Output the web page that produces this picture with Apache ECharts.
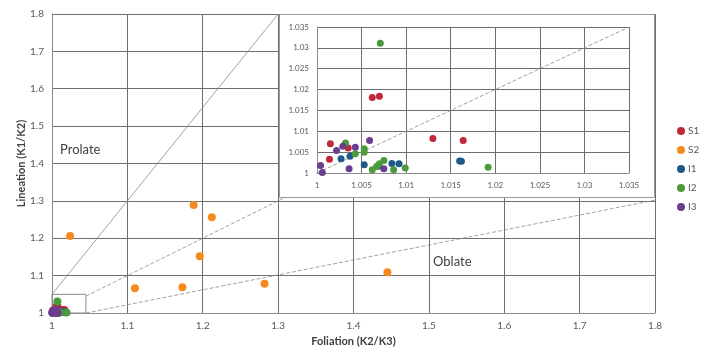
<!DOCTYPE html>
<html>
<head>
<meta charset="utf-8">
<script src="https://cdn.jsdelivr.net/npm/echarts@6/dist/echarts.min.js"></script>
<style>
  html, body { margin: 0; padding: 0; background: #fff; }
  #chart { width: 705px; height: 352px; }
</style>
</head>
<body>
<div id="chart"></div>
<script>
// 数据：每个点为 [Foliation, Lineation]
const seriesNames = ['S1', 'S2', 'I1', 'I2', 'I3'];
const colors = ['#c0283c', '#f58a1f', '#1d5a8a', '#4c9a3b', '#6b3d8c'];

const s1 = [
  [1.0015, 1.0070], [1.0014, 1.0033], [1.0035, 1.0060], [1.0062, 1.0181],
  [1.0070, 1.0184], [1.0130, 1.0083], [1.0164, 1.0078]
];
const s2 = [
  [1.024, 1.206], [1.188, 1.289], [1.212, 1.256], [1.196, 1.152],
  [1.110, 1.066], [1.173, 1.069], [1.282, 1.078], [1.445, 1.109]
];
const i1 = [
  [1.0027, 1.0034], [1.0037, 1.0040], [1.0053, 1.0020], [1.0069, 1.0016],
  [1.0084, 1.0023], [1.0092, 1.0022], [1.0160, 1.0029], [1.0162, 1.0028]
];
const i2 = [
  [1.0071, 1.0311], [1.0032, 1.0072], [1.0043, 1.0046], [1.0053, 1.0058],
  [1.0053, 1.0050], [1.0062, 1.0008], [1.0070, 1.0022], [1.0075, 1.0030],
  [1.0086, 1.0008], [1.0099, 1.0012], [1.0192, 1.0014], [1.0067, 1.0016]
];
const i3 = [
  [1.0004, 1.0018], [1.0006, 1.0001], [1.0022, 1.0054], [1.0029, 1.0064],
  [1.0043, 1.0062], [1.0036, 1.0010], [1.0059, 1.0078], [1.0075, 1.0010]
];
const allData = [s1, s2, i1, i2, i3];

// 参考线
const lineProlate = [[1, 1.05], [1.3, 1.8]];
const lineEqual = [[1.045, 1.045], [1.8, 1.8]];
const lineOblate = [[1.045, 1], [1.8, 1.302]];
const zoomBox = [[1, 1], [1.045, 1], [1.045, 1.05], [1, 1.05], [1, 1]];
const insetEqual = [[1, 1], [1.035, 1.035]];

const font = 'Lato, "Liberation Sans", sans-serif';
const labelStyle = { color: '#595959', fontSize: 10, fontFamily: font };
const gridLine = { lineStyle: { color: '#6e6e6e', width: 1 } };

const chart = echarts.init(document.getElementById('chart'), null, { renderer: 'canvas' });

const series = [];
// 主图散点
allData.forEach((d, k) => {
  series.push({
    name: seriesNames[k], type: 'scatter', xAxisIndex: 0, yAxisIndex: 0,
    data: d, symbolSize: 8, itemStyle: { color: colors[k], opacity: 1 }, z: 5
  });
});
// 主图参考线
function refLine(data, dashed, xi, z) {
  return {
    type: 'line', data: data, xAxisIndex: xi, yAxisIndex: xi, symbol: 'none', silent: true,
    lineStyle: { color: '#8a8a8a', width: 0.8, type: dashed ? [4, 2] : 'solid' },
    z: z, animation: false
  };
}
series.push(refLine(lineProlate, false, 0, 3));
series.push(refLine(lineEqual, true, 0, 3));
series.push(refLine(lineOblate, true, 0, 3));
series.push(Object.assign(refLine(zoomBox, false, 0, 3), { lineStyle: { color: '#8a8a8a', width: 1 } }));
// 插图
series.push(refLine(insetEqual, true, 1, 12));
allData.forEach((d, k) => {
  if (k === 1) return;
  series.push({
    name: seriesNames[k], type: 'scatter', xAxisIndex: 1, yAxisIndex: 1,
    data: d, symbolSize: 7, itemStyle: { color: colors[k], opacity: 1 }, z: 13
  });
});

chart.setOption({
  animation: false,
  color: colors,
  textStyle: { fontFamily: font },
  grid: [
    { left: 52, top: 14, width: 603, height: 299 },
    { left: 317, top: 27, width: 312, height: 146, z: 11 }
  ],
  legend: {
    data: seriesNames,
    orient: 'vertical',
    left: 672, top: 121,
    itemGap: 9, itemWidth: 8, itemHeight: 8,
    icon: 'circle',
    textStyle: { color: '#595959', fontSize: 10, fontFamily: font, padding: [0, 0, 0, -2] }
  },
  xAxis: [
    {
      type: 'value', gridIndex: 0, min: 1, max: 1.8, interval: 0.1,
      name: 'Foliation (K2/K3)', nameLocation: 'middle', nameGap: 22,
      nameTextStyle: { fontWeight: 'bold', fontSize: 11, color: '#404040', fontFamily: font },
      axisLine: { lineStyle: { color: '#8c8c8c' } }, axisTick: { show: false },
      axisLabel: labelStyle, splitLine: gridLine
    },
    {
      type: 'value', gridIndex: 1, min: 1, max: 1.035, interval: 0.005, z: 11,
      axisLine: { lineStyle: { color: '#8c8c8c' } }, axisTick: { show: false },
      axisLabel: Object.assign({}, labelStyle, { fontSize: 8, margin: 8 }), splitLine: gridLine
    }
  ],
  yAxis: [
    {
      type: 'value', gridIndex: 0, min: 1, max: 1.8, interval: 0.1,
      name: 'Lineation (K1/K2)', nameLocation: 'middle', nameGap: 25, nameMoveOverlap: false,
      nameTextStyle: { fontWeight: 'bold', fontSize: 11, color: '#404040', fontFamily: font },
      axisLine: { show: true, lineStyle: { color: '#8c8c8c' } }, axisTick: { show: false },
      axisLabel: labelStyle, splitLine: gridLine
    },
    {
      type: 'value', gridIndex: 1, min: 1, max: 1.035, interval: 0.005, z: 11,
      axisLine: { show: true, lineStyle: { color: '#8c8c8c' } }, axisTick: { show: false },
      axisLabel: Object.assign({}, labelStyle, { fontSize: 8, margin: 8 }), splitLine: gridLine
    }
  ],
  graphic: [
    {
      type: 'rect', z: 10, silent: true,
      shape: { x: 279.5, y: 14.5, width: 375, height: 183 },
      style: { fill: '#fff', stroke: '#9a9a9a', lineWidth: 1 }
    },
    {
      type: 'text', left: 60, top: 143, z: 4,
      style: { text: 'Prolate', fill: '#404040', fontSize: 13, fontFamily: font }
    },
    {
      type: 'text', left: 433, top: 255, z: 4,
      style: { text: 'Oblate', fill: '#404040', fontSize: 13, fontFamily: font }
    }
  ],
  series: series
});
</script>
</body>
</html>
